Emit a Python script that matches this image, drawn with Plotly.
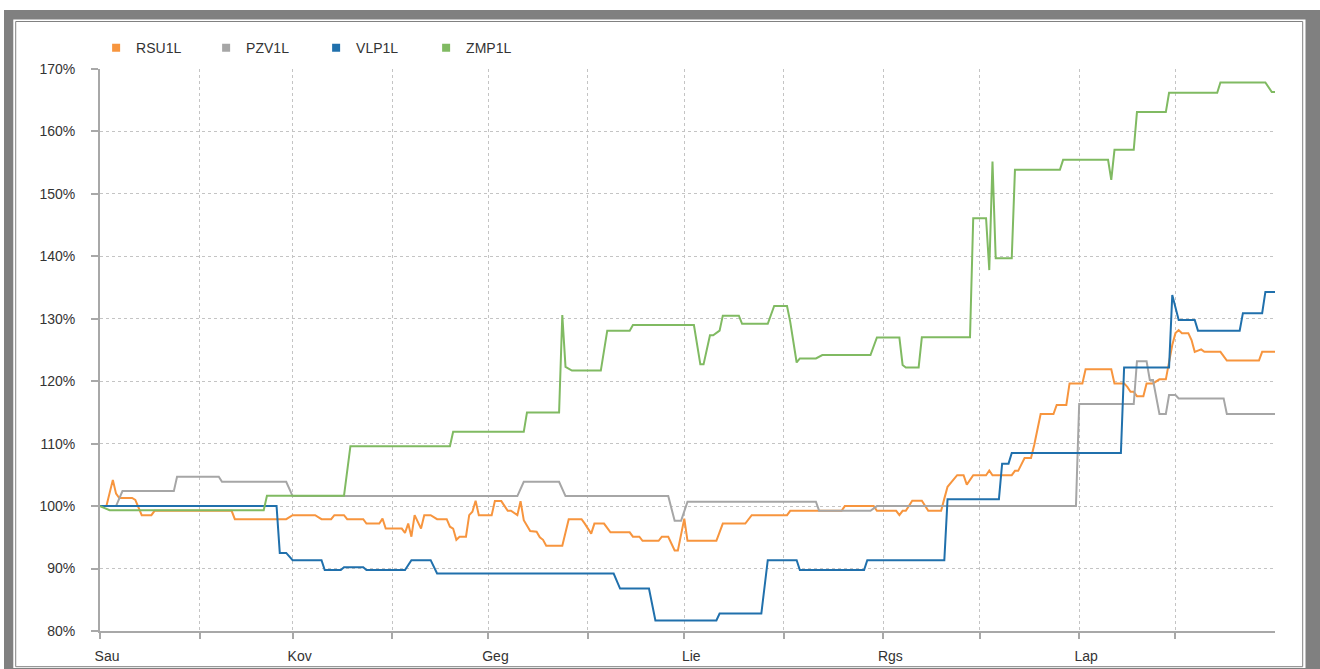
import pandas as pd
import plotly.graph_objects as go

START = pd.Timestamp("2012-01-01")

# day offsets from 1 Jan 2012 and values (%)
RSU_DAY = [0, 2, 4, 5, 6, 10, 11, 13, 16, 17, 41, 42, 58, 60, 67, 69, 72, 73, 76, 77, 82, 83, 87, 88, 89, 94, 95, 96, 97, 98,
           100, 101, 103, 105, 108, 109, 110, 111, 112, 114, 115, 116, 117, 118, 122, 123, 125, 127, 128, 130, 131, 132, 134,
           136, 137, 138, 139, 144, 146, 150, 151, 153, 154, 157, 159, 165, 166, 168, 169, 174, 175, 177, 179, 180, 182, 183,
           192, 194, 201, 203, 214, 215, 231, 232, 241, 242, 248, 249, 250, 251, 253, 256, 258, 262, 263, 264, 267, 269, 270,
           272, 276, 277, 278, 284, 285, 286, 288, 290, 291, 293, 297, 298, 301, 302, 306, 307, 315, 316, 319, 320, 321, 322,
           323, 325, 326, 328, 330, 332, 334, 335, 336, 337, 339, 340, 341, 343, 344, 349, 351, 361, 362, 366]
RSU_VAL = [100, 100, 104.2, 102.0, 101.3, 101.3, 101.0, 98.55, 98.55, 99.25, 99.25, 97.9, 97.9, 98.55, 98.55, 97.9, 97.9,
           98.55, 98.55, 97.9, 97.9, 97.2, 97.2, 98.0, 96.4, 96.4, 95.7, 97.2, 95.1, 98.55,
           96.4, 98.55, 98.55, 97.9, 97.9, 96.7, 96.4, 94.6, 95.1, 95.1, 98.55, 99.1, 100.85, 98.55, 98.55, 100.8, 100.8, 99.25,
           99.25, 98.55, 100.8, 97.75, 96.0, 95.9, 95.0, 94.6, 93.65, 93.65, 97.9, 97.9, 97.2, 95.6, 97.2, 97.2, 95.8, 95.8,
           95.1, 95.1, 94.45, 94.45, 95.1, 95.1, 92.9, 92.9, 98.0, 94.45, 94.45, 97.2, 97.2, 98.55, 98.55, 99.25, 99.25, 100.0,
           100.0, 99.25, 99.25, 98.55, 99.25, 99.25, 100.85, 100.85, 99.25, 99.25, 101.2, 103.1, 104.95, 104.95, 103.45,
           104.95, 104.95, 105.7, 104.95, 104.95, 105.65, 105.65, 107.7, 107.7, 109.8, 114.75, 114.75, 116.2, 116.2, 119.65,
           119.65, 121.9, 121.9, 119.65, 119.65, 119.1, 118.3, 118.3, 117.6, 117.6, 119.65, 119.65, 120.3, 120.3, 125.8,
           127.7, 128.2, 127.7, 127.7, 126.6, 124.7, 125.1, 124.7, 124.7, 123.3, 123.3, 124.7, 124.7]

PZV_DAY = [0, 5, 7, 23, 24, 37, 38, 58, 60, 130, 132, 143, 145, 177, 179, 181, 183, 223, 224, 240, 242, 304, 305, 322,
           323, 326, 327, 328, 330, 332, 333, 335, 336, 350, 351, 366]
PZV_VAL = [100, 100, 102.4, 102.4, 104.7, 104.7, 103.9, 103.9, 101.6, 101.6, 103.9, 103.9, 101.6, 101.6, 97.65, 97.65,
           100.7, 100.7, 99.25, 99.25, 100.0, 100.0, 116.35, 116.35, 123.2, 123.2, 120.2, 120.2, 114.75, 114.75, 117.8,
           117.8, 117.25, 117.25, 114.75, 114.75]

VLP_DAY = [0, 55, 56, 58, 60, 69, 70, 75, 76, 82, 83, 95, 97, 103, 105, 160, 162, 171, 173, 192, 193, 206, 208, 217, 218,
           238, 239, 263, 264, 280, 281, 283, 284, 318, 319, 333, 334, 336, 341, 342, 355, 356, 362, 363, 366]
VLP_VAL = [100, 100, 92.5, 92.5, 91.35, 91.35, 89.75, 89.75, 90.2, 90.2, 89.75, 89.75, 91.35, 91.35, 89.2, 89.2, 86.8,
           86.8, 81.7, 81.7, 82.8, 82.8, 91.35, 91.35, 89.75, 89.75, 91.35, 91.35, 101.1, 101.1, 106.8, 106.8, 108.5,
           108.5, 122.2, 122.2, 133.8, 129.8, 129.8, 128.1, 128.1, 130.9, 130.9, 134.3, 134.3]

ZMP_DAY = [0, 3, 51, 52, 76, 78, 109, 110, 132, 133, 143, 144, 145, 147, 156, 158, 165, 166, 185, 187, 188, 190, 191, 193,
           194, 199, 200, 208, 210, 214, 215, 217, 218, 223, 225, 240, 242, 249, 250, 251, 255, 256, 271, 272, 276, 277,
           278, 279, 284, 285, 299, 300, 314, 315, 316, 322, 323, 332, 333, 348, 349, 363, 365, 366]
ZMP_VAL = [100, 99.35, 99.35, 101.65, 101.65, 109.6, 109.6, 111.9, 111.9, 115.0, 115.0, 130.6, 122.3, 121.7, 121.7,
           128.1, 128.1, 129.0, 129.0, 122.7, 122.7, 127.35, 127.35, 128.1, 130.5, 130.5, 129.2, 129.2, 132.05, 132.05,
           129.5, 123.0, 123.65, 123.65, 124.2, 124.2, 127.0, 127.0, 122.6, 122.2, 122.2, 127.05, 127.05, 146.1, 146.1,
           137.8, 155.2, 139.7, 139.7, 153.85, 153.85, 155.45, 155.45, 152.25, 157.05, 157.05, 163.1, 163.1, 166.2,
           166.2, 167.85, 167.85, 166.3, 166.3]

SERIES = [
    ("RSU1L", RSU_DAY, RSU_VAL, "#F7953E"),
    ("PZV1L", PZV_DAY, PZV_VAL, "#A6A6A6"),
    ("VLP1L", VLP_DAY, VLP_VAL, "#2070AC"),
    ("ZMP1L", ZMP_DAY, ZMP_VAL, "#80BA62"),
]

MONTH_LABELS = ["Sau", "", "Kov", "", "Geg", "", "Lie", "", "Rgs", "", "Lap", ""]
MONTH_TICKS = pd.date_range("2012-01-01", periods=12, freq="MS")

fig = go.Figure()
for name, days, vals, color in SERIES:
    dates = START + pd.to_timedelta(days, unit="D")
    fig.add_trace(go.Scatter(x=dates, y=vals, mode="lines", name=name, showlegend=False,
                             line=dict(color=color, width=2), hoverinfo="skip"))
for name, days, vals, color in SERIES:
    fig.add_trace(go.Scatter(x=[None], y=[None], mode="markers", name=name,
                             marker=dict(symbol="square", size=8, color=color)))

FONT = "Liberation Sans, Arial, sans-serif"

fig.update_layout(
    width=1320, height=669,
    margin=dict(l=100, r=45, t=69, b=38, autoexpand=False),
    paper_bgcolor="white",
    plot_bgcolor="rgba(0,0,0,0)",
    font=dict(family=FONT, size=14, color="#333333"),
    showlegend=True,
    legend=dict(orientation="h", x=-0.0033, y=1.037, xanchor="left", yanchor="middle",
                font=dict(family=FONT, size=14, color="#333333"), bgcolor="rgba(0,0,0,0)",
                itemwidth=30, entrywidth=65, entrywidthmode="pixels", traceorder="normal"),
    shapes=[
        dict(type="rect", xref="paper", yref="paper", x0=-0.0817, x1=1.05, y0=-0.09, y1=1.105,
             fillcolor="#808080", line=dict(width=0), layer="below"),
        dict(type="rect", xref="paper", yref="paper", x0=-0.0738, x1=1.02596, y0=-0.0658, y1=1.0881,
             fillcolor="white", line=dict(width=0), layer="below"),
        dict(type="rect", xref="paper", yref="paper", x0=-0.07174, x1=1.02357, y0=-0.06352, y1=1.08452,
             fillcolor="white", line=dict(width=1, color="#808080"), layer="below"),
    ],
)

fig.update_xaxes(
    type="date", range=["2012-01-01", "2013-01-01"],
    tickvals=MONTH_TICKS, ticktext=MONTH_LABELS,
    showgrid=True, gridcolor="#C4C4C4", griddash="3px,3px", gridwidth=1,
    showline=True, linecolor="#A8A8A8", linewidth=2,
    ticks="outside", ticklen=6, tickcolor="#A8A8A8", tickwidth=2,
    ticklabelshift=7, ticklabelstandoff=5,
    tickfont=dict(family=FONT, size=14, color="#333333"),
    zeroline=False, fixedrange=True,
)
fig.update_yaxes(
    range=[80, 170], dtick=10, tick0=80, ticksuffix="%",
    showgrid=True, gridcolor="#C4C4C4", griddash="3px,3px", gridwidth=1,
    showline=True, linecolor="#A8A8A8", linewidth=2,
    ticks="outside", ticklen=7, tickcolor="#A8A8A8", tickwidth=2,
    ticklabelstandoff=13,
    tickfont=dict(family=FONT, size=14, color="#333333"),
    zeroline=False, fixedrange=True,
)

fig.write_html("out.html", config={"displayModeBar": False},
               post_script="document.body.style.margin='0';document.body.style.overflow='hidden';")
